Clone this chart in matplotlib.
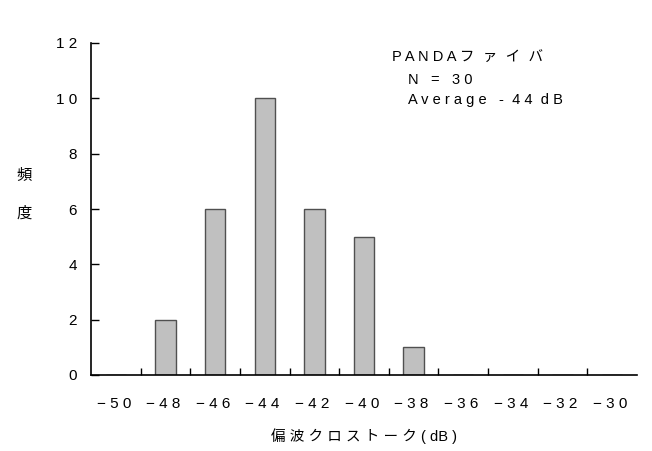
import matplotlib
matplotlib.use('Agg')
import matplotlib.pyplot as plt
import numpy as np

plt.rcParams['font.family'] = ['Liberation Sans', 'Noto Sans CJK JP']

# histogram of crosstalk (dB)
bins = [-50, -48, -46, -44, -42, -40, -38, -36, -34, -32, -30]
counts = [0, 2, 6, 10, 6, 5, 1, 0, 0, 0, 0]
yticks = [0, 2, 4, 6, 8, 10, 12]

def spaced(s):
    # mimic the wide letter spacing of the original (trailing gap too)
    return ' '.join(s.replace('-', '\u2212')) + ' '

fig = plt.figure(figsize=(6.52, 4.51), dpi=100)
ax = fig.add_axes([91/652, 1-375/451, 546/652, 332/451])

x = np.arange(len(bins))
ax.bar(x, counts, width=0.41, color='#c0c0c0', edgecolor='#505050', linewidth=1.0)

ax.set_xlim(-0.5, len(bins) - 0.5)
ax.set_ylim(0, 12)
ax.set_xticks(x)
ax.set_xticklabels([spaced(str(b)) for b in bins], fontsize=11)
ax.set_xticks(x[:-1] + 0.5, minor=True)
ax.tick_params(axis='x', which='major', length=0, pad=16)
ax.tick_params(axis='x', which='minor', direction='in', length=5, width=1)
ax.set_yticks(yticks)
ax.set_yticklabels([spaced(str(v)) for v in yticks], fontsize=11)
ax.tick_params(axis='y', direction='in', length=6, width=1, pad=6.5)

for s in ['top', 'right']:
    ax.spines[s].set_visible(False)
for s in ['left', 'bottom']:
    ax.spines[s].set_linewidth(1.2)

ax.set_xlabel(' '.join('偏波クロストーク') + ' ( dB )', fontsize=10.5, labelpad=12)

fig.text(24/652, 1-175/451, '頻', fontsize=11, ha='center', va='center')
fig.text(24/652, 1-213/451, '度', fontsize=11, ha='center', va='center')

fig.text(392/652, 1-58/451, 'P A N D A フ  ァ  イ  バ', fontsize=10.5, va='center')
fig.text(408/652, 1-80/451, 'N   =   3 0', fontsize=10.5, va='center')
fig.text(408/652, 1-100/451, 'A v e r a g e   -  4 4  d B', fontsize=10.5, va='center')

fig.savefig('out.png', dpi=100)
